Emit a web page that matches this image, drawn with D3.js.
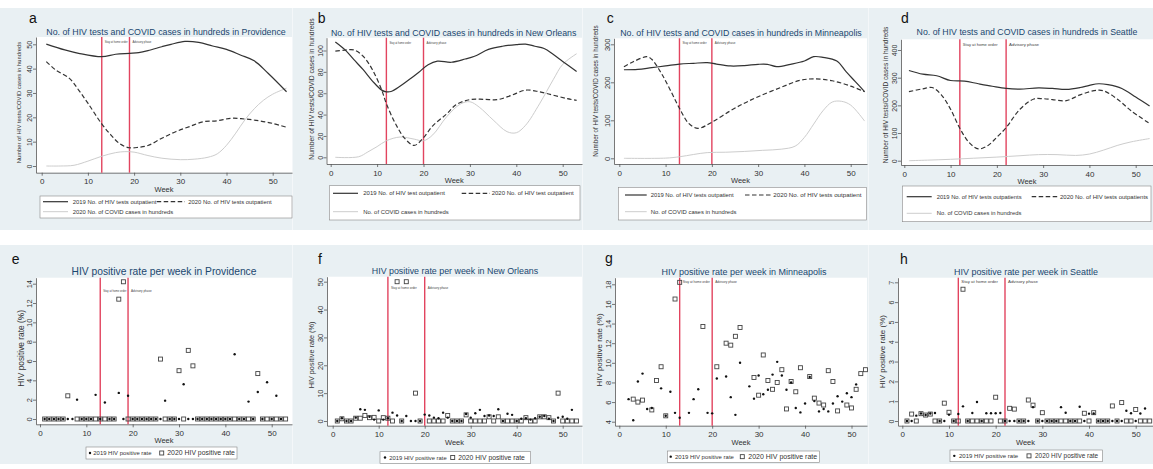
<!doctype html>
<html lang="en">
<head>
<meta charset="utf-8">
<title>HIV tests, COVID cases and HIV positive rate</title>
<script src="https://cdn.jsdelivr.net/npm/d3@7"></script>
<style>
  body { margin: 0; background: #fff; }
  svg text { font-family: "Liberation Sans", Arial, sans-serif; }
</style>
</head>
<body>
<script>
// ---- data: weekly HIV tests (smoothed) and COVID cases, [week, value]
var prov2019 = [[1,50.1],[5,47.7],[8,46.3],[13,44.9],[16,45.9],[19,46.3],[21,46.6],[23,47.4],[26,49],[28,50],[31,51.2],[34,50.8],[37,49.3],[40,47.9],[43,45.6],[46,43.2],[49,38.1],[53,30.5]];
var prov2020 = [[1,42.9],[3,39.5],[6,36],[8,31.2],[10,25.8],[13,17.3],[15,12.7],[17,9],[19,7.5],[21,7.7],[23,8.4],[26,11.4],[29,14.1],[32,16.2],[35,18.2],[38,18.6],[41,19.6],[44,19.3],[47,18.6],[50,17.5],[53,15.9]];
var provCovid = [[1,0],[4,0],[7,0.3],[10,2],[13,4],[16,5.5],[18,5.9],[20,5.7],[23,4.3],[26,3.2],[30,2.6],[33,2.8],[36,3.6],[38,5],[40,8.5],[42,13.5],[44,19],[46,23.5],[48,27],[50,29.5],[53,32]];

var nola2019 = [[1,108],[3,101],[5,91.4],[7,82],[9,71.4],[11,62.9],[12,61.3],[13,61.6],[15,66.7],[17,73],[19,79.7],[21,86.7],[23,90],[26,89],[29,92],[31,94.6],[34,101],[37,104],[40,105.5],[42,106],[44,104],[46,101.9],[48,96.2],[50,89.8],[53,80.3]];
var nola2020 = [[1,99.4],[3,100.3],[5,100.5],[7,94.6],[9,82],[11,62.9],[12,50.2],[14,31.1],[16,17.5],[18,11.1],[20,18.4],[22,29.5],[25,40.6],[27,49.2],[30,54],[33,54.3],[36,54],[39,58.1],[42,62.9],[45,61.3],[48,58.1],[51,54.9],[53,53.3]];
var nolaCovid = [[1,0],[6,0.5],[8,5],[10,10],[12,15.5],[15,19],[18,17],[20,15.5],[22,21],[25,38],[28,50],[30,52],[32,47],[35,35],[38,24],[40,23],[42,30],[45,50],[48,73],[50,87],[53,97]];

var minn2019 = [[1,233],[4,234],[7,238.6],[10,243],[13,248],[16,250],[19,251.8],[21,248],[24,243],[27,243.9],[30,247.4],[32,247.4],[34,241.2],[37,247.4],[40,256],[42,267.5],[44,265.8],[47,256],[49,228],[51,201.8],[53,175.4]];
var minn2020 = [[1,241],[3,254],[6,267.5],[7,260.5],[9,225.4],[11,180],[13,131.6],[15,92],[17,79],[20,95],[24,125],[27,145],[30,162],[35,187],[39,205],[42,209],[46,204],[50,190],[53,175]];
var minnCovid = [[1,0],[10,0.5],[13,4],[16,10],[19,15],[23,16],[27,18],[31,21],[35,24],[38,32],[40,55],[42,90],[44,125],[46,148],[48,150],[50,140],[53,98]];

var seat2019 = [[1,326],[4,312.6],[7,307],[10,289.7],[13,287.4],[16,278],[19,269],[22,261],[25,258.6],[29,263],[32,261],[35,257.5],[38,264.4],[40,272.4],[42,278],[44,274.7],[47,261],[50,230],[53,197.7]];
var seat2020 = [[1,249.4],[4,259.8],[6,264.4],[8,238],[10,186],[12,117],[14,65.5],[16,42.5],[18,54],[20,85],[22,119.5],[25,186],[28,223],[30,224],[32,220.7],[35,217],[38,238],[41,253],[43,253],[46,223],[49,180.5],[53,134.5]];
var seatCovid = [[1,0],[5,2],[10,5],[15,9],[20,13],[25,18],[29,22],[33,22],[37,19],[40,24],[43,38],[46,55],[49,68],[53,80]];

// ---- data: weekly HIV positive rate (%), index 0 = week 1 (null = no value)
var provRate2019 = [0,0,0,0,0,0,0,2.0,0,0, 0,2.5,0,1.7,0,0,2.7,0,2.4,0, 0,0,0,0,0,0,1.9,0,0,0, 3.6,0,0,0,0,0,0,0,0,0, 0,6.7,0,0,1.8,0,2.8,0,3.8,0, 2.4,0];
var provRate2020 = [0,0,0,0,0,2.4,null,0,0,0, 0,0,0,0,0,0,12.4,14.2,0,0, 0,0,0,0,0,6.2,0,0,0,5.0, 0,7.1,5.5,0,0,0,0,0,0,0, 0,0,0,0,0,0,4.7,0,0,0, 0,0,0];
var nolaRate2019 = [0,1.0,0,0,1.2,4.2,4.0,1.5,0.5,3.8, 0.5,1.0,3.0,2.0,0,1.8,0,0,0,2.3, 2.0,1.2,1.0,3.0,1.2,0,0,0,2.5,1.2, 2.8,4.0,1.8,2.0,1.8,4.2,0,2.6,2.2,0, 0.8,1.0,0.5,1.0,1.5,1.8,0.8,0,1.2,1.5, 0.8,4.0];
var nolaRate2020 = [0,0.8,0,0,1.0,1.0,2.0,1.2,1.3,0, 1.2,1.0,0,50,0,50,null,10,0,null, 0,0,0,0,2.0,0,0,0,2.2,0, 0,0,0,1.5,0,1.5,0,0,0,0, 0,1.2,0,0,1.5,1.5,1.2,0,10,0, 0,0,0];
var minnRate2019 = [null,6.3,4.15,8.1,8.9,5.3,5.4,null,7.4,4.6, 7.05,4.9,4.4,null,4.9,6.3,7.3,null,4.9,4.85, 8.4,null,8.6,6.5,4.7,10.0,null,7.6,6.35,8.7, 6.8,7.25,8.8,10.1,8.7,7.25,8.0,5.4,4.95,5.85, 8.55,6.1,5.05,5.3,5.05,5.85,6.6,6.05,6.9,6.5, 7.8,null];
var minnRate2020 = [null,null,6.3,6.0,6.2,null,5.2,8.2,9.6,4.6, null,16.5,18.2,null,null,null,null,13.7,null,null, 9.6,null,12.0,11.8,12.7,13.6,null,null,8.5,6.7, 10.8,8.2,7.3,8.0,9.3,5.3,8.1,7.05,9.5,null, 8.6,6.4,5.9,5.7,9.2,8.1,5.1,null,5.7,5.4, 7.3,8.9,9.3];
var seatRate2019 = [0,0,0.27,0.38,0.3,0.38,0.4,0,0,0.32, 0,0.35,0.74,0,0.4,0.96,0,0.39,0.39,0.39, 0.4,0,0,0,0,0,0,0.7,0,0, 0,0,0,0.7,0.42,0,0,0.72,0,0.37, 0.38,0,0,0,0,0,0,0.52,0.39,0, 0.38,0.63];
var seatRate2020 = [0,0.35,0,0.37,0.3,0.35,0,0,0.9,0.44, 0,0,6.65,0,0,0,0,0,0,1.2, 0,0,0.64,0.6,0,0,1.06,0.8,0,0.42, 0,0,0,0,0,0,0,0,0.39,0, 0.42,0,0,0,0.76,0,0.93,0,0,0.58, 0,0,0];

// ---- text
var lineTitles = ["No. of HIV tests and COVID cases in hundreds in Providence",
                  "No. of HIV tests and COVID cases in hundreds in New Orleans",
                  "No. of HIV tests and COVID cases in hundreds in Minneapolis",
                  "No. of HIV tests and COVID cases in hundreds in Seattle"];
var rateTitles = ["HIV positive rate per week in Providence",
                  "HIV positive rate per week in New Orleans",
                  "HIV positive rate per week in Minneapolis",
                  "HIV positive rate per week in Seattle"];
var provLegend = ["2019 No. of HIV tests outpatient", "2020 No. of HIV tests outpatient", "2020 No. of COVID cases in hundreds"];
var nolaLegend = ["2019 No. of HIV test outpatient", "2020 No. of HIV test outpatient", "No. of COVID cases in hundreds"];
var minnLegend = ["2019 No. of HIV tests outpatient", "2020 No. of HIV tests outpatient", "No. of COVID cases in hundreds"];
var seatLegend = ["2019 No. of HIV tests outpatients", "2020 No. of HIV tests outpatients", "No. of COVID cases in hundreds"];
var rateLegend = ["2019 HIV positive rate", "2020 HIV positive rate"];
var phaseLabels = ["Stay at home order", "Advisory phase"];
var weekTicks = [0, 10, 20, 30, 40, 50];

var BG = "#e9f0f3";
var TITLE = "#1a476f";
var RED = "#e2445f";
var INK = "#333";

var svg = d3.select("body")
            .append("svg")
            .attr("width", 1153)
            .attr("height", 469);

// scale where anchor values land on given pixels, domain stretched to the plot edges
function fitScale(dom, rng, edges) {
    var s = d3.scaleLinear().domain(dom).range(rng);
    return d3.scaleLinear()
             .domain([s.invert(edges[0]), s.invert(edges[1])])
             .range(edges);
}

// size a text so its natural length matches the width seen in the picture
function fitText(sel, width) {
    sel.style("font-size", "10px");
    var w = sel.node().getComputedTextLength();
    sel.style("font-size", (10 * width / w) + "px");
    return sel;
}

function drawFrame(p) {
    var g = svg.append("g");
    var b = p.box;
    g.append("rect")
     .attr("x", p.bg[0]).attr("y", p.bg[1])
     .attr("width", p.bg[2] - p.bg[0]).attr("height", p.bg[3] - p.bg[1])
     .attr("fill", BG);
    g.append("rect")
     .attr("x", b[0]).attr("y", b[1])
     .attr("width", b[2] - b[0]).attr("height", b[3] - b[1])
     .attr("fill", "#fff");

    var x = fitScale([0, 50], p.xAt, [b[0], b[2]]);
    var y = fitScale([p.yTicks[0], p.yTicks[p.yTicks.length - 1]], p.yAt, [b[3], b[1]]);

    // axes
    var xa = g.append("g")
              .attr("transform", "translate(0," + b[3] + ")")
              .call(d3.axisBottom(x).tickValues(weekTicks).tickSize(3).tickPadding(3).tickSizeOuter(0));
    var ya = g.append("g")
              .attr("transform", "translate(" + b[0] + ",0)")
              .call(d3.axisLeft(y).tickValues(p.yTicks).tickSize(3).tickSizeOuter(0));
    [xa, ya].forEach(a => {
        a.select(".domain").attr("stroke", "#555").attr("stroke-width", 0.8);
        a.selectAll(".tick line").attr("stroke", "#555").attr("stroke-width", 0.8);
        a.selectAll("text").attr("fill", INK);
    });
    xa.selectAll("text").style("font-size", "8px");
    ya.selectAll("text")
      .style("font-size", p.yTickFs + "px")
      .attr("transform", "rotate(-90)")
      .attr("x", 0)
      .attr("y", -4)
      .attr("dy", 0)
      .style("text-anchor", "middle");

    g.append("text")
     .attr("x", (b[0] + b[2]) / 2)
     .attr("y", b[3] + 19)
     .attr("text-anchor", "middle")
     .style("font-size", "7.5px")
     .attr("fill", INK)
     .text("Week");

    fitText(g.append("text")
             .attr("transform", "translate(" + p.yTitle[0] + "," + p.yTitle[1] + ") rotate(-90)")
             .attr("text-anchor", "middle")
             .attr("dy", "0.35em")
             .attr("fill", INK)
             .text(p.yLabel), p.yTitle[2]);

    // titles
    fitText(g.append("text")
             .attr("x", p.titleX).attr("y", p.titleY)
             .attr("text-anchor", "middle")
             .attr("fill", TITLE)
             .text(p.title), p.titleW);
    g.append("text")
     .attr("x", p.letter[0]).attr("y", p.letter[1])
     .style("font-size", "14px")
     .attr("fill", "#111")
     .text(p.letterText);

    // phase lines
    p.phases.forEach((wk, i) => {
        g.append("line")
         .attr("x1", x(wk)).attr("x2", x(wk))
         .attr("y1", b[1]).attr("y2", b[3])
         .attr("stroke", RED)
         .attr("stroke-width", 1.4);
        fitText(g.append("text")
                 .attr("x", x(wk) + 3)
                 .attr("y", b[1] + p.labelDy)
                 .attr("fill", "#444")
                 .text(phaseLabels[i]), p.labelW[i]);
    });
    return {g: g, x: x, y: y};
}

var lineStyles = [
    {stroke: "#333", width: 1.2, dash: null},
    {stroke: "#333", width: 1.2, dash: "4.5,2.5"},
    {stroke: "#cdcdcd", width: 1, dash: null}
];

function linePanel(p) {
    var f = drawFrame(p);
    var line = d3.line()
                 .x(d => f.x(d[0]))
                 .y(d => f.y(d[1]))
                 .curve(d3.curveCatmullRom.alpha(0.5));
    [2, 1, 0].forEach(i => {
        f.g.append("path")
           .attr("d", line(p.series[i]))
           .attr("fill", "none")
           .attr("stroke", lineStyles[i].stroke)
           .attr("stroke-width", lineStyles[i].width)
           .attr("stroke-dasharray", lineStyles[i].dash);
    });

    // legend
    var lb = p.legBox;
    f.g.append("rect")
       .attr("x", lb[0]).attr("y", lb[1])
       .attr("width", lb[2] - lb[0]).attr("height", lb[3] - lb[1])
       .attr("fill", "#fff")
       .attr("stroke", "#888")
       .attr("stroke-width", 0.6);
    p.legItems.forEach((it, i) => {
        var ry = p.legRows[i < 2 ? 0 : 1];
        f.g.append("line")
           .attr("x1", it[0]).attr("x2", it[1])
           .attr("y1", ry).attr("y2", ry)
           .attr("stroke", lineStyles[i].stroke)
           .attr("stroke-width", lineStyles[i].width)
           .attr("stroke-dasharray", lineStyles[i].dash);
        fitText(f.g.append("text")
                   .attr("x", it[2]).attr("y", ry)
                   .attr("dy", "0.35em")
                   .attr("fill", INK)
                   .text(p.legText[i]), it[3]);
    });
}

function ratePanel(p) {
    var f = drawFrame(p);
    var pts2019 = p.rate2019.map((v, i) => ({week: i + 1, v: v})).filter(d => d.v !== null);
    var pts2020 = p.rate2020.map((v, i) => ({week: i + 1, v: v})).filter(d => d.v !== null);

    f.g.selectAll("rect.r2020")
       .data(pts2020)
       .enter()
       .append("rect")
       .attr("class", "r2020")
       .attr("x", d => f.x(d.week) - 2)
       .attr("y", d => f.y(d.v) - 2)
       .attr("width", 4)
       .attr("height", 4)
       .attr("fill", "none")
       .attr("stroke", "#444")
       .attr("stroke-width", 0.9);
    f.g.selectAll("circle.r2019")
       .data(pts2019)
       .enter()
       .append("circle")
       .attr("class", "r2019")
       .attr("cx", d => f.x(d.week))
       .attr("cy", d => f.y(d.v))
       .attr("r", 1.2)
       .attr("fill", "#111");

    var lb = p.legBox;
    f.g.append("rect")
       .attr("x", lb[0]).attr("y", lb[1])
       .attr("width", lb[2] - lb[0]).attr("height", lb[3] - lb[1])
       .attr("fill", "#fff")
       .attr("stroke", "#888")
       .attr("stroke-width", 0.6);
    var ly = (lb[1] + lb[3]) / 2;
    var li = p.legItems;
    f.g.append("circle")
       .attr("cx", li[0]).attr("cy", ly).attr("r", 1.2).attr("fill", "#111");
    f.g.append("rect")
       .attr("x", li[2] - 2).attr("y", ly - 2)
       .attr("width", 4).attr("height", 4)
       .attr("fill", "none").attr("stroke", "#444").attr("stroke-width", 0.9);
    [[li[1], li[4]], [li[3], li[5]]].forEach((t, i) => {
        fitText(f.g.append("text")
                   .attr("x", t[0]).attr("y", ly)
                   .attr("dy", "0.35em")
                   .attr("fill", INK)
                   .text(rateLegend[i]), t[1]);
    });
}

var yLine = "Number of HIV tests/COVID cases in hundreds";
var yRate = "HIV positive rate (%)";

linePanel({letterText: "a", title: lineTitles[0], yLabel: yLine, yTickFs: 7,
    bg: [0, 8, 292.5, 230], box: [36, 37, 292, 172.7], xAt: [41.7, 272.7], yAt: [166, 44.3],
    yTicks: [0, 10, 20, 30, 40, 50], phases: [13, 19],
    titleX: 166, titleY: 34.5, titleW: 240, letter: [29, 23], yTitle: [18.7, 102.5, 121.7],
    labelW: [23, 19], labelDy: 6,
    legBox: [40, 196, 292, 218], legRows: [201.7, 211.7],
    legItems: [[43, 68, 72.7, 84], [156.7, 185, 188.3, 83.4], [43, 68, 72.7, 100.6]],
    legText: provLegend, series: [prov2019, prov2020, provCovid]});

linePanel({letterText: "b", title: lineTitles[1], yLabel: yLine, yTickFs: 7,
    bg: [293, 8, 582.5, 230], box: [326.5, 37.7, 582, 164], xAt: [330.7, 562.7], yAt: [157.3, 50.5],
    yTicks: [0, 20, 40, 60, 80, 100], phases: [12, 20],
    titleX: 453.7, titleY: 35.5, titleW: 246, letter: [317.7, 22.7], yTitle: [311.7, 89, 141.7],
    labelW: [21.7, 20], labelDy: 6,
    legBox: [329.3, 185.7, 580, 220], legRows: [193.3, 211.7],
    legItems: [[333, 358, 363.3, 81.7], [461.7, 490, 491.7, 82.3], [333, 358, 363.3, 85.6]],
    legText: nolaLegend, series: [nola2019, nola2020, nolaCovid]});

linePanel({letterText: "c", title: lineTitles[2], yLabel: yLine, yTickFs: 7.5,
    bg: [583, 8, 868, 230], box: [614, 38.3, 867, 164], xAt: [619.3, 850.7], yAt: [158.3, 44.3],
    yTicks: [0, 100, 200, 300], phases: [13, 20],
    titleX: 741, titleY: 36, titleW: 242, letter: [606.7, 22.7], yTitle: [596, 91, 131.7],
    labelW: [24.3, 20.6], labelDy: 6,
    legBox: [618.3, 187.3, 866.7, 220], legRows: [195, 211.7],
    legItems: [[625, 646.7, 650.7, 83.3], [745, 771.7, 773.3, 88.4], [625, 646.7, 650.7, 86]],
    legText: minnLegend, series: [minn2019, minn2020, minnCovid]});

linePanel({letterText: "d", title: lineTitles[3], yLabel: yLine, yTickFs: 7,
    bg: [868.5, 8, 1153, 230], box: [901, 39.3, 1153, 165], xAt: [904.3, 1135.7], yAt: [160.7, 50],
    yTicks: [0, 100, 200, 300, 400], phases: [12, 22],
    titleX: 1027, titleY: 34.5, titleW: 221, letter: [901, 22.7], yTitle: [886, 95, 136.7],
    labelW: [34.7, 30], labelDy: 6.2,
    legBox: [902.3, 186, 1151, 221.7], legRows: [196.7, 213.3],
    legItems: [[906.7, 931.7, 936.7, 85], [1031.7, 1057.7, 1060, 88.3], [906.7, 931.7, 936.7, 85]],
    legText: seatLegend, series: [seat2019, seat2020, seatCovid]});

ratePanel({letterText: "e", title: rateTitles[0], yLabel: yRate, yTickFs: 7.5,
    bg: [0, 245, 292.5, 464], box: [36, 277.7, 292, 424.3], xAt: [40, 271.7], yAt: [419, 283.7],
    yTicks: [0, 2, 4, 6, 8, 10, 12, 14], phases: [13, 19],
    titleX: 164, titleY: 275, titleW: 185, letter: [11.7, 264], yTitle: [21, 348.3, 76.7],
    labelW: [23.3, 20.7], labelDy: 14.3,
    legBox: [86, 447, 237, 459], legItems: [90, 93.3, 161.7, 167.3, 58.4, 67.7],
    rate2019: provRate2019, rate2020: provRate2020});

ratePanel({letterText: "f", title: rateTitles[1], yLabel: yRate, yTickFs: 7.5,
    bg: [293, 245, 582.5, 464], box: [327, 276.7, 582, 425.7], xAt: [332.7, 562.7], yAt: [421, 281.7],
    yTicks: [0, 10, 20, 30, 40, 50], phases: [12, 20],
    titleX: 455, titleY: 273.5, titleW: 166.7, letter: [318, 264], yTitle: [311.7, 355, 66.7],
    labelW: [26, 20.6], labelDy: 12.6,
    legBox: [380, 451.7, 530.7, 463.3], legItems: [385, 389.3, 452.7, 458.3, 57.4, 66.7],
    rate2019: nolaRate2019, rate2020: nolaRate2020});

ratePanel({letterText: "g", title: rateTitles[2], yLabel: yRate, yTickFs: 7.5,
    bg: [583, 245, 868, 464], box: [615, 277.7, 867, 425.7], xAt: [619.3, 851.5], yAt: [421.7, 284.3],
    yTicks: [4, 6, 8, 10, 12, 14, 16, 18], phases: [13, 20],
    titleX: 744, titleY: 275, titleW: 165, letter: [605, 263], yTitle: [599, 350, 73.3],
    labelW: [27.3, 21.7], labelDy: 5.6,
    legBox: [667.3, 451, 819.3, 462.3], legItems: [670.7, 675, 742.3, 748.3, 59, 69],
    rate2019: minnRate2019, rate2020: minnRate2020});

ratePanel({letterText: "h", title: rateTitles[3], yLabel: yRate, yTickFs: 7,
    bg: [868.5, 245, 1153, 464], box: [898, 277.7, 1153, 425.7], xAt: [902.3, 1135.7], yAt: [421, 282.3],
    yTicks: [0, 1, 2, 3, 4, 5, 6, 7], phases: [12, 22],
    titleX: 1026, titleY: 275, titleW: 144, letter: [900, 264], yTitle: [882.5, 351.7, 73.3],
    labelW: [36.6, 30], labelDy: 5.5,
    legBox: [950, 450, 1102.3, 461.7], legItems: [954.3, 959, 1029, 1035, 59.3, 63.3],
    rate2019: seatRate2019, rate2020: seatRate2020});
</script>
</body>
</html>
